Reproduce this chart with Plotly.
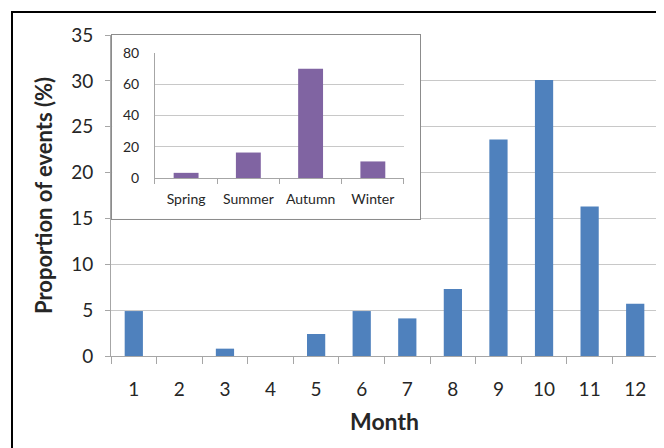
import plotly.graph_objects as go

months = ["1", "2", "3", "4", "5", "6", "7", "8", "9", "10", "11", "12"]
month_pct = [4.9, 0, 0.8, 0, 2.4, 4.9, 4.1, 7.3, 23.6, 30.1, 16.3, 5.7]

seasons = ["Spring", "Summer", "Autumn", "Winter"]
season_pct = [3.3, 16.3, 69.9, 10.6]

FONT = "Lato"
TXT = "#262626"
GRID = "#c8c8c8"
AXL = "#a6a6a6"

fig = go.Figure()

fig.add_trace(go.Bar(x=months, y=month_pct, marker=dict(color="#4f81bd", line=dict(width=0)),
                     xaxis="x", yaxis="y", showlegend=False))
# blank panel that hosts the inset (white box with grey frame)
fig.add_trace(go.Scatter(x=[], y=[], xaxis="x2", yaxis="y2", showlegend=False))
fig.add_trace(go.Bar(x=seasons, y=season_pct, marker=dict(color="#8064a2", line=dict(width=0)),
                     xaxis="x3", yaxis="y3", showlegend=False))

fig.update_layout(
    width=656, height=440,
    margin=dict(l=103, r=6, t=27, b=92),
    paper_bgcolor="white", plot_bgcolor="white",
    bargap=0.6,
    font=dict(family=FONT, color=TXT),
    xaxis=dict(domain=[0, 1], type="category", tickson="boundaries", ticks="outside", ticklen=7,
               tickcolor=AXL, showline=True, linecolor=AXL, showgrid=False,
               tickfont=dict(size=19, color=TXT), ticklabelstandoff=16,
               title=dict(text="<b>Month</b>", font=dict(size=23, color=TXT), standoff=15),
               anchor="y"),
    yaxis=dict(domain=[0, 1], range=[0, 35], dtick=5, ticks="outside", ticklen=5, tickcolor=AXL,
               showline=True, linecolor=AXL, showgrid=True, gridcolor=GRID, zeroline=False,
               tickfont=dict(size=19, color=TXT), ticklabelstandoff=8,
               title=dict(text="<b>Proportion of events (%)</b>", font=dict(size=22, color=TXT), standoff=12),
               anchor="x"),
    xaxis2=dict(domain=[0.002, 0.565], range=[0, 1], showgrid=False, zeroline=False, showticklabels=False,
                ticks="", showline=True, mirror=True, linecolor="#8c8c8c", linewidth=1, anchor="y2"),
    yaxis2=dict(domain=[0.427, 1.0], range=[0, 1], showgrid=False, zeroline=False, showticklabels=False,
                ticks="", showline=True, mirror=True, linecolor="#8c8c8c", linewidth=1, anchor="x2"),
    xaxis3=dict(domain=[0.0804, 0.5356], type="category", tickson="boundaries", ticks="outside", ticklen=5,
                tickcolor=AXL, showline=True, linecolor=AXL, showgrid=False, tickangle=0,
                tickfont=dict(size=14, color=TXT), ticklabelstandoff=8, anchor="y3"),
    yaxis3=dict(domain=[0.5545, 0.944], range=[0, 80], dtick=20, ticks="", showline=True, linecolor=AXL,
                showgrid=True, gridcolor=GRID, zeroline=False, ticklabelstandoff=12,
                tickfont=dict(size=14, color=TXT), anchor="x3"),
    shapes=[dict(type="rect", xref="paper", yref="paper", x0=-0.181, x1=1.2, y0=-0.6, y1=1.0717,
                 line=dict(color="black", width=2), fillcolor="rgba(0,0,0,0)", layer="above")],
)

fig.write_html("out.html")
